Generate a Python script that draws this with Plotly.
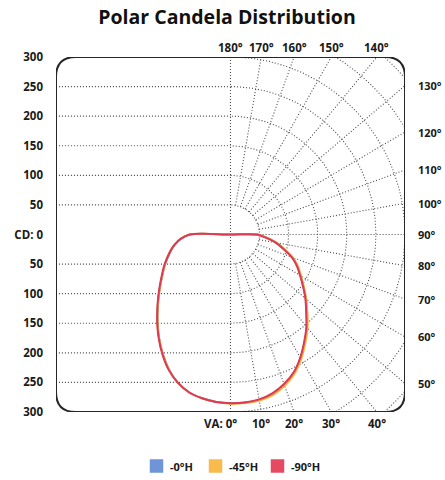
import numpy as np
import plotly.graph_objects as go

# ---------------- data ----------------
title_text = "Polar Candela Distribution"

cd_tickvals = [300, 250, 200, 150, 100, 50, 0, -50, -100, -150, -200, -250, -300]
cd_ticktext = ["300", "250", "200", "150", "100", "50", "CD: 0",
               "50", "100", "150", "200", "250", "300"]

grid_levels = [50, 100, 150, 200, 250]            # left dotted lines (cd)
arc_radii = [50, 100, 150, 200, 250, 300, 350, 400]  # right polar arcs (cd)
radial_angles = [10, 20, 30, 40, 50, 60, 70, 80, 90, 100, 110, 120, 130, 140, 150, 160, 170]

top_angles = [180, 170, 160, 150, 140]
right_angles = [130, 120, 110, 100, 90, 80, 70, 60, 50]
bottom_angles = [0, 10, 20, 30, 40]

# vertical angles (deg, 0 = nadir); negative = opposite half plane
angles = [-180] + list(range(-90, 95, 5)) + [180]

series_names = ["-0°H", "-45°H", "-90°H"]
series_colors = ["#4f7fd0", "#f2b134", "#dc3a55"]
legend_colors = ["#6f95d8", "#f8bb4c", "#e64a63"]

#         -180 | -90 ... -5 | 0 ... 90 | 180
cd_0H = [0, 70, 86, 97, 106, 115, 125, 135, 147, 161, 177, 195, 214, 233, 251, 266, 276, 281, 284,
         285, 285, 284, 279, 270, 258, 241, 222, 204, 185, 169, 153, 139, 127, 113, 95, 80, 62, 46, 0]
cd_45H = [0, 71, 87, 98, 107, 116, 125, 135, 147, 161, 177, 195, 214, 233, 251, 266, 276, 281, 284,
          286, 286, 285, 281, 272, 260, 243, 224, 206, 187, 170, 154, 140, 128, 114, 96, 81, 63, 47, 0]
cd_90H = [0, 70, 86, 97, 107, 116, 126, 136, 148, 162, 178, 196, 215, 234, 252, 266, 276, 281, 284,
          285, 285, 283, 278, 269, 257, 240, 221, 203, 184, 168, 152, 138, 126, 112, 94, 79, 61, 45, 0]
series_values = [cd_0H, cd_45H, cd_90H]

# ---------------- geometry helpers ----------------
W_FIG, H_FIG = 445, 480
M_L, M_R, M_T, M_B = 56, 40, 57, 68
H = 300.0     # half size of the frame (cd)
RC = 34.0     # corner radius (cd)


def inside(x, y):
    ax, ay = abs(x), abs(y)
    if ax > H + 1e-9 or ay > H + 1e-9:
        return False
    if ax > H - RC and ay > H - RC:
        return (ax - (H - RC)) ** 2 + (ay - (H - RC)) ** 2 <= RC ** 2
    return True


def ray_end(theta_deg):
    t = np.radians(theta_deg)
    s, c = np.sin(t), -np.cos(t)
    rs = [H / abs(v) for v in (s, c) if abs(v) > 1e-9]
    r = min(rs)
    return r * s, r * c


def px2paper(px, py):
    return ((px - M_L) / (W_FIG - M_L - M_R),
            (H_FIG - M_B - py) / (H_FIG - M_T - M_B))


grid_style = dict(color="#4a4a4a", width=1.1, dash="1px,2px")

fig = go.Figure()

# left horizontal dotted lines
gx, gy = [], []
for lv in grid_levels:
    for yy in (lv, -lv):
        gx += [-H + 5, 0, None]
        gy += [yy, yy, None]
# vertical centre line
gx += [0, 0, None]
gy += [-H, H, None]
# radial lines
for a in radial_angles:
    t = np.radians(a)
    ex, ey = ray_end(a)
    gx += [arc_radii[0] * np.sin(t), ex, None]
    gy += [-arc_radii[0] * np.cos(t), ey, None]
fig.add_trace(go.Scatter(x=gx, y=gy, mode="lines", line=grid_style,
                         hoverinfo="skip", showlegend=False))

# arcs
ax_, ay_ = [], []
tt = np.radians(np.linspace(0, 180, 721))
for r in arc_radii:
    for t in tt:
        x, y = r * np.sin(t), -r * np.cos(t)
        if inside(x, y):
            ax_.append(x)
            ay_.append(y)
        else:
            ax_.append(None)
            ay_.append(None)
    ax_.append(None)
    ay_.append(None)
fig.add_trace(go.Scatter(x=ax_, y=ay_, mode="lines", line=grid_style,
                         hoverinfo="skip", showlegend=False))

# candela curves
th = np.radians(np.array(angles, dtype=float))
for name, col, vals in zip(series_names, series_colors, series_values):
    v = np.array(vals, dtype=float)
    fig.add_trace(go.Scatter(x=v * np.sin(th), y=-v * np.cos(th), mode="lines",
                             line=dict(color=col, width=2, shape="spline", smoothing=0.8),
                             name=name, showlegend=False))

# frame
k = H - RC
path = (f"M {-H},{k} Q {-H},{H} {-k},{H} L {k},{H} Q {H},{H} {H},{k} "
        f"L {H},{-k} Q {H},{-H} {k},{-H} L {-k},{-H} Q {-H},{-H} {-H},{-k} Z")
fig.add_shape(type="path", path=path, xref="x", yref="y",
              line=dict(color="#262626", width=2))

font_family = "Open Sans, Noto Sans, sans-serif"
lab_font = dict(family=font_family, size=11.5, color="#1a1a1a")
right_font = dict(family=font_family, size=11, color="#1a1a1a")
ann = []
for a in top_angles:
    x, y = ray_end(a)
    ann.append(dict(x=x, y=H, text=f"<b>{a}°</b>", showarrow=False,
                    xanchor="center", yanchor="middle", yshift=10, font=lab_font))
for a in right_angles:
    x, y = ray_end(a)
    ann.append(dict(x=H, y=y, text=f"<b>{a}°</b>", showarrow=False,
                    xanchor="left", yanchor="middle", xshift=11, font=right_font))
for a in bottom_angles:
    x, y = ray_end(a)
    if a == 0:
        ann.append(dict(x=0, y=-H, text=f"<b>VA: {a}°</b>", showarrow=False,
                        xanchor="right", yanchor="middle", xshift=8, yshift=-11, font=lab_font))
    else:
        ann.append(dict(x=x, y=-H, text=f"<b>{a}°</b>", showarrow=False,
                        xanchor="center", yanchor="middle", yshift=-11, font=lab_font))

# legend (swatches + labels)
legend_swatch_left = [150, 209, 271]
legend_y = 466
sw = 13
leg_font = dict(family=font_family, size=11, color="#1a1a1a")
for name, col, lx in zip(series_names, legend_colors, legend_swatch_left):
    x0, y0 = px2paper(lx, legend_y + sw / 2)
    x1, y1 = px2paper(lx + sw, legend_y - sw / 2)
    fig.add_shape(type="rect", xref="paper", yref="paper", x0=x0, y0=y0, x1=x1, y1=y1,
                  fillcolor=col, line=dict(color=col, width=0.5))
    tx, ty = px2paper(lx + sw + 5, legend_y)
    ann.append(dict(x=tx, y=ty, xref="paper", yref="paper", text=f"<b>{name}</b>",
                    showarrow=False, xanchor="left", yanchor="middle", font=leg_font))

fig.update_layout(
    width=W_FIG, height=H_FIG, autosize=False,
    margin=dict(l=M_L, r=M_R, t=M_T, b=M_B, autoexpand=False),
    paper_bgcolor="white", plot_bgcolor="white",
    title=dict(text=f"<b>{title_text}</b>", x=0.49, xref="paper", xanchor="center",
               y=1 - 17 / 480, yref="container", yanchor="middle",
               font=dict(family=font_family, size=19.5, color="#111")),
    xaxis=dict(range=[-H, H], showgrid=False, zeroline=False, showticklabels=False,
               ticks="", showline=False, fixedrange=True, automargin=False),
    yaxis=dict(range=[-H, H], showgrid=False, zeroline=False, tickmode="array",
               tickvals=cd_tickvals, ticktext=[f"<b>{t}</b>" for t in cd_ticktext],
               tickfont=lab_font, ticks="", ticklabelstandoff=12, showline=False,
               fixedrange=True, automargin=False),
    annotations=ann,
    showlegend=False,
)

fig.write_html("out.html", post_script="document.body.style.margin='0';",
               config={"displayModeBar": False})
